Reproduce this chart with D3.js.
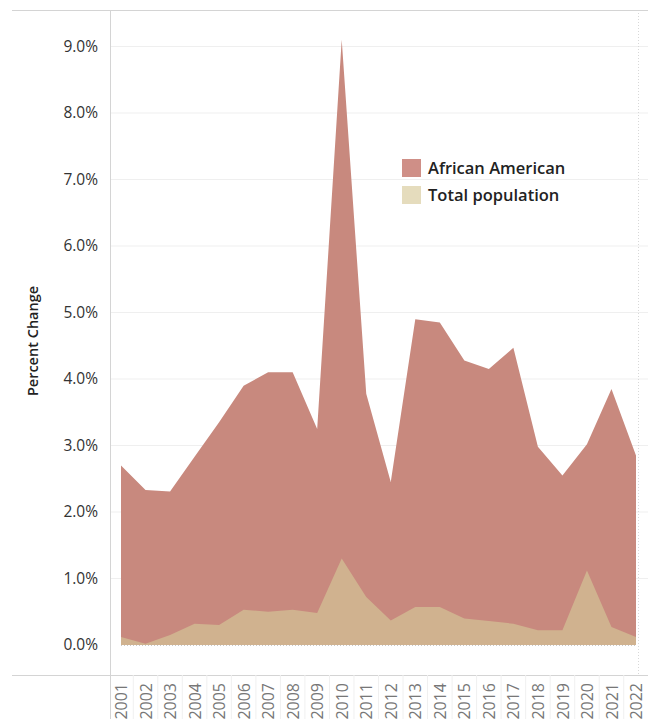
<!DOCTYPE html>
<html>
  <head>
    <meta charset="utf-8" />
    <title>Percent Change</title>
    <script src="https://d3js.org/d3.v7.min.js"></script>
    <style>
      body { margin: 0; background: #fff; }
      text { font-family: "Open Sans", "DejaVu Sans", sans-serif; }
    </style>
  </head>
  <body>
    <div id="chart"></div>
    <script>
const years = ['2001','2002','2003','2004','2005','2006','2007','2008','2009','2010','2011',
  '2012','2013','2014','2015','2016','2017','2018','2019','2020','2021','2022'];
const africanAmerican = [2.70, 2.33, 2.31, 2.83, 3.35, 3.90, 4.10, 4.10, 3.25, 9.10, 3.78,
  2.45, 4.90, 4.85, 4.28, 4.15, 4.47, 2.98, 2.55, 3.02, 3.85, 2.85];
const totalPopulation = [0.12, 0.02, 0.15, 0.32, 0.30, 0.53, 0.50, 0.53, 0.48, 1.30, 0.72,
  0.37, 0.57, 0.57, 0.40, 0.36, 0.32, 0.22, 0.22, 1.12, 0.27, 0.12];
const yTicks = [0, 1, 2, 3, 4, 5, 6, 7, 8, 9];
const seriesNames = ['African American', 'Total population'];

const W = 648, H = 719;
const svg = d3.select('#chart').append('svg').attr('width', W).attr('height', H);

// plot frame
const frameLeft = 110, frameTop = 10, frameBottom = 675;
const x = d3.scalePoint().domain(years).range([121, 636]);
const y = d3.scaleLinear().domain([0, 9]).range([645, 46.5]);

// gridlines
svg.append('g').selectAll('line').data(yTicks.filter(d => d > 0)).join('line')
  .attr('x1', frameLeft).attr('x2', W).attr('y1', d => y(d)).attr('y2', d => y(d))
  .attr('stroke', '#efefef').attr('stroke-width', 1);

// areas
const area = vals => d3.area()
  .x((d, i) => x(years[i])).y0(y(0)).y1(d => y(d))(vals);

svg.append('path').attr('d', area(africanAmerican)).attr('fill', '#c8897e');
svg.append('path').attr('d', area(totalPopulation)).attr('fill', '#d0b28f');

// zero line and right dotted line
svg.append('line').attr('x1', 121).attr('x2', 637).attr('y1', y(0) + 0.5).attr('y2', y(0) + 0.5)
  .attr('stroke', '#c8c8c8').attr('stroke-dasharray', '1,2');
svg.append('line').attr('x1', 638.5).attr('x2', 638.5).attr('y1', frameTop).attr('y2', frameBottom)
  .attr('stroke', '#d8d8d8').attr('stroke-dasharray', '1,2');

// frame lines
svg.append('line').attr('x1', 12).attr('x2', W).attr('y1', frameTop + 0.5).attr('y2', frameTop + 0.5)
  .attr('stroke', '#d4d4d4');
svg.append('line').attr('x1', 12).attr('x2', W).attr('y1', frameBottom + 0.5).attr('y2', frameBottom + 0.5)
  .attr('stroke', '#d4d4d4');
svg.append('line').attr('x1', frameLeft + 0.5).attr('x2', frameLeft + 0.5).attr('y1', frameTop).attr('y2', H)
  .attr('stroke', '#d4d4d4');

// y axis
const yAxis = svg.append('g').attr('transform', `translate(${frameLeft - 9},0)`)
  .call(d3.axisLeft(y).tickValues(yTicks).tickFormat(d => d.toFixed(1) + '%').tickSize(0));
yAxis.select('.domain').remove();
yAxis.selectAll('text').attr('fill', '#333').style('font-size', '15.5px');

svg.append('text')
  .attr('transform', 'translate(38,341) rotate(-90)')
  .attr('text-anchor', 'middle').attr('fill', '#222')
  .style('font-size', '14.5px').style('font-weight', 600)
  .text('Percent Change');

// x axis (rotated labels)
const xAxis = svg.append('g').attr('transform', `translate(0,${frameBottom})`)
  .call(d3.axisBottom(x).tickSize(0));
xAxis.select('.domain').remove();
xAxis.selectAll('text')
  .attr('transform', 'rotate(-90)')
  .attr('x', -8).attr('y', 0).attr('dy', '0.35em')
  .attr('text-anchor', 'end').attr('fill', '#777')
  .style('font-size', '16px');

// separators between x labels
const step = x.step();
svg.append('g').selectAll('line').data(years.slice(1)).join('line')
  .attr('x1', d => x(d) - step / 2).attr('x2', d => x(d) - step / 2)
  .attr('y1', frameBottom).attr('y2', H)
  .attr('stroke', '#f0f0f0');

// legend
const legendColors = ['#cf8f87', '#e5dcbd'];
const legend = svg.append('g').attr('transform', 'translate(402,159)');
seriesNames.forEach((name, i) => {
  const g = legend.append('g').attr('transform', `translate(0,${i * 27})`);
  g.append('rect').attr('width', 19).attr('height', 18).attr('fill', legendColors[i]);
  g.append('text').attr('x', 26).attr('y', 15)
    .attr('fill', '#222').style('font-size', '16.5px').style('font-weight', 600)
    .text(name);
});
    </script>
  </body>
</html>
